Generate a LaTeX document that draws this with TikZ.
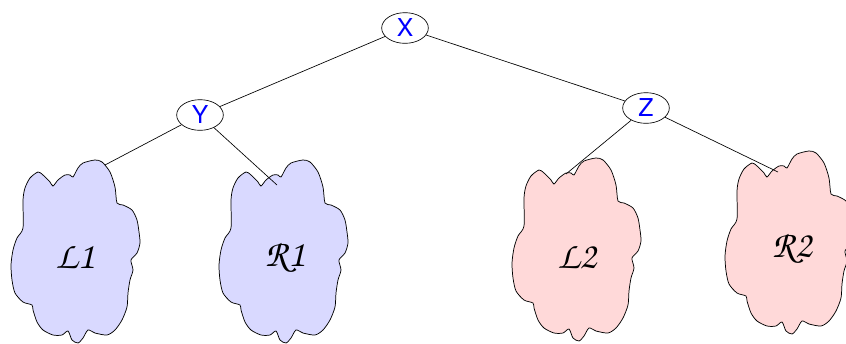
\documentclass[tikz,border=0pt]{standalone}
\usepackage[T1,TU]{fontenc}
\usepackage{fontspec}
\setsansfont{TeX Gyre Heros}
\usetikzlibrary{shapes.geometric}

% calligraphic labels inside the clouds
\newcommand\chancery[1]{{\fontencoding{T1}\fontfamily{pzc}\fontseries{mb}\fontshape{it}\fontsize{28.5}{30}\selectfont #1}}

\tikzset{
  treenode/.style={ellipse, draw, line width=0.5pt, inner sep=0pt, minimum width=35pt,
    minimum height=23pt, text=blue, font=\sffamily\fontsize{18.5}{20}\selectfont},
  edge/.style={draw, line width=0.5pt},
  cloudblob/.pic={
    \path[pic actions] plot[smooth cycle, tension=0.45] coordinates {
      (-45,-77) (-37,-83) (-32,-80) (-25,-73) (-22,-69) (-17,-75) (-10,-80)
      (-5,-80) (-2,-78) (3,-87) (8,-92) (20,-95) (27,-93) (35,-83) (40,-68)
      (42,-52) (48,-50) (57,-45) (62,-35) (64,-23) (65,-12) (62,-2) (56,5)
      (58,15) (55,25) (53,38) (52,52) (47,65) (40,75) (32,80) (20,78)
      (13,75) (8,83) (3,88) (-3,85) (-7,76) (-13,80) (-22,80) (-32,75)
      (-38,67) (-42,55) (-43,50) (-52,47) (-60,38) (-63,25) (-64,10)
      (-62,-5) (-58,-17) (-52,-27) (-52,-55) (-50,-67)
    };
  },
  leftcloud/.style={fill=blue!15, draw=black, line width=0.55pt},
  rightcloud/.style={fill=red!15, draw=black, line width=0.55pt},
  cloudlabel/.style={inner sep=0pt},
}

\begin{document}
\begin{tikzpicture}[x=0.75pt, y=-0.75pt]
  \useasboundingbox (0,0) rectangle (846,343);

  % subtrees drawn as clouds
  \pic[leftcloud] at (75,255) {cloudblob};
  \pic[leftcloud] at (283,255) {cloudblob};
  \pic[rightcloud] at (576,253) {cloudblob};
  \pic[rightcloud] at (789,246) {cloudblob};

  \node[cloudlabel] (l1) at (75,257) {\chancery{L1}};
  \node[cloudlabel] (r1) at (285,257) {\chancery{R1}};
  \node[cloudlabel] (l2) at (577,257) {\chancery{L2}};
  \node[cloudlabel] (r2) at (792,248) {\chancery{R2}};

  % tree nodes
  \node[treenode] (X) at (405,28) {X};
  \node[treenode] (Y) at (200,115) {Y};
  \node[treenode] (Z) at (646,108) {Z};

  % where the edges enter the clouds
  \coordinate (l1in) at (105,165);
  \coordinate (r1in) at (277,185);
  \coordinate (l2in) at (566,174);
  \coordinate (r2in) at (778,172);

  \draw[edge] (X) -- (Y);
  \draw[edge] (X) -- (Z);
  \draw[edge] (Y) -- (l1in);
  \draw[edge] (Y) -- (r1in);
  \draw[edge] (Z) -- (l2in);
  \draw[edge] (Z) -- (r2in);
\end{tikzpicture}
\end{document}
